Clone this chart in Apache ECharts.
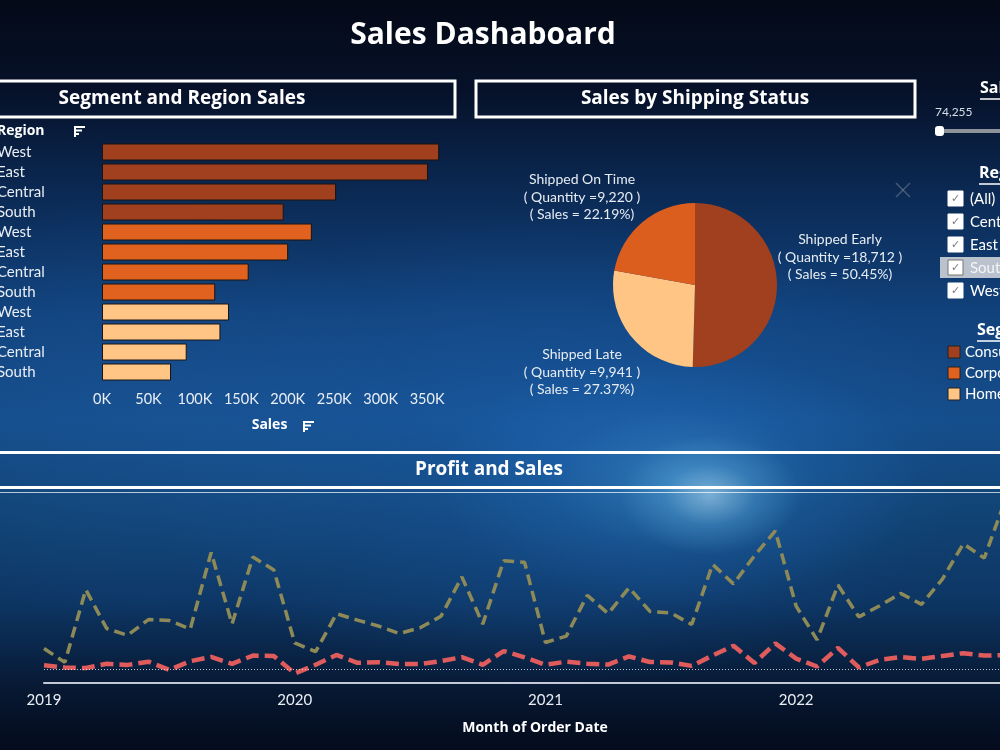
<!DOCTYPE html>
<html>
<head>
<meta charset="utf-8">
<script src="https://cdn.jsdelivr.net/npm/echarts@6/dist/echarts.min.js"></script>
<style>
  html, body { margin: 0; padding: 0; }
  body {
    width: 1000px; height: 750px; overflow: hidden;
    background:
      radial-gradient(ellipse 90px 60px at 71% 66%, rgba(200,240,255,0.5), rgba(120,200,245,0.22) 50%, rgba(0,0,0,0) 100%),
      radial-gradient(ellipse 240px 130px at 68% 64%, rgba(80,170,230,0.42), rgba(40,120,200,0.2) 55%, rgba(0,0,0,0) 100%),
      radial-gradient(ellipse 420px 240px at 55% 60%, rgba(30,100,180,0.45), rgba(0,0,0,0) 100%),
      radial-gradient(ellipse 260px 220px at 15% 55%, rgba(30,90,160,0.35), rgba(0,0,0,0) 100%),
      linear-gradient(to bottom, #040917 0%, #061129 12%, #0b2a55 26%, #11427c 42%, #154e8c 56%, #124679 66%, #0d3664 80%, #071832 92%, #040b1c 100%);
  }
  #chart { width: 1000px; height: 750px; }
</style>
</head>
<body>
<div id="chart"></div>
<script>
// Segment and region sales
const segments = ["Consumer", "Corporate", "Home Office"];
const regions = ["West", "East", "Central", "South"];
const consumerSales = [362900, 350900, 252000, 195600];
const corporateSales = [225900, 200400, 157900, 121900];
const homeOfficeSales = [136700, 127500, 91200, 74300];
const segmentColors = ["#A1401F", "#E0621E", "#FFC585"];

// Shipping status
const shipStatus = ["Shipped Early", "Shipped Late", "Shipped On Time"];
const shipSharePct = [50.45, 27.37, 22.19];
const shipQuantity = ["18,712", "9,941", "9,220"];
const shipColors = ["#A1401F", "#FFC585", "#DC5E1F"];

// Profit and sales by month
const years = ["2019", "2020", "2021", "2022"];
const monthlySales = [
  14200, 4500, 55700, 28300, 23600, 34600, 33900, 27900, 81800, 31500, 78600, 69500,
  18200, 12000, 38700, 34200, 30100, 24800, 28800, 36900, 64600, 31400, 76000, 74900,
  18500, 23000, 51700, 38800, 57000, 40300, 39300, 31100, 73400, 59700, 79400, 97000,
  44000, 20300, 58900, 36500, 44300, 53000, 45300, 63100, 87900, 77800, 118400, 83800
];
const monthlyProfit = [
  2450, 860, 500, 3490, 2740, 4980, -840, 5320, 8330, 3450, 9290, 8980,
  -3280, 2810, 9730, 4190, 4670, 3340, 3290, 5360, 8210, 2820, 12480, 8020,
  2820, 5000, 3610, 2980, 8660, 4750, 4430, 2060, 9330, 16240, 4010, 17890,
  7140, 1610, 14750, 930, 6340, 8220, 6950, 9040, 10990, 9280, 9690, 8480
];
const regionFilter = ["(All)", "Central", "East", "South", "West"];

const segValues = [consumerSales, corporateSales, homeOfficeSales];
const barCats = [];
const barData = [];
segments.forEach((s, si) => {
  regions.forEach((r, ri) => {
    barCats.push(s + "|" + r);
    barData.push({ value: segValues[si][ri], itemStyle: { color: segmentColors[si] } });
  });
});

const months = [];
years.forEach(y => {
  for (let m = 1; m <= 12; m++) months.push(y + "-" + String(m).padStart(2, "0"));
});

const FONT = "Lato";
const HEAD = "Open Sans";
const txt = "#e9eef4";

function sortIcon(x, y) {
  return {
    type: "group", x: x, y: y,
    children: [
      { type: "rect", shape: { x: 0, y: 0, width: 11, height: 2 }, style: { fill: "#ffffff" } },
      { type: "rect", shape: { x: 0, y: 3.5, width: 8, height: 2 }, style: { fill: "#ffffff" } },
      { type: "rect", shape: { x: 0, y: 7, width: 5, height: 2 }, style: { fill: "#ffffff" } },
      { type: "rect", shape: { x: 0, y: 0, width: 2, height: 11 }, style: { fill: "#ffffff" } }
    ]
  };
}

function heading(text, x, y) {
  return [
    { type: "text", x: x, y: y, style: { text: text, fill: "#ffffff", font: "bold 16px " + HEAD, textVerticalAlign: "middle" } },
    { type: "line", shape: { x1: x, y1: y + 11, x2: x + 80, y2: y + 11 }, style: { stroke: "#ffffff", lineWidth: 1.5 } }
  ];
}

const graphics = [
  { type: "text", x: 483, y: 35, style: { text: "Sales Dashaboard", fill: "#ffffff", font: "bold 30px " + HEAD, textAlign: "center", textVerticalAlign: "middle" } },
  // panel headers
  { type: "rect", shape: { x: -5, y: 81, width: 460, height: 36 }, style: { fill: "none", stroke: "#ffffff", lineWidth: 3 } },
  { type: "text", x: 182, y: 99, style: { text: "Segment and Region Sales", fill: "#ffffff", font: "bold 19px " + HEAD, textAlign: "center", textVerticalAlign: "middle" } },
  { type: "rect", shape: { x: 476, y: 81, width: 439, height: 36 }, style: { fill: "none", stroke: "#ffffff", lineWidth: 3 } },
  { type: "text", x: 695, y: 99, style: { text: "Sales by Shipping Status", fill: "#ffffff", font: "bold 19px " + HEAD, textAlign: "center", textVerticalAlign: "middle" } },
  { type: "text", x: -3, y: 131, style: { text: "Region", fill: "#ffffff", font: "bold 14px " + HEAD, textVerticalAlign: "middle" } },
  sortIcon(74, 126),
  sortIcon(303, 421),
  // profit and sales band
  { type: "rect", shape: { x: 0, y: 451, width: 1000, height: 3 }, style: { fill: "#ffffff" } },
  { type: "text", x: 489, y: 470, style: { text: "Profit and Sales", fill: "#ffffff", font: "bold 19px " + HEAD, textAlign: "center", textVerticalAlign: "middle" } },
  { type: "rect", shape: { x: 0, y: 486, width: 1000, height: 3 }, style: { fill: "#ffffff" } },
  { type: "rect", shape: { x: 0, y: 492, width: 1000, height: 1 }, style: { fill: "rgba(255,255,255,0.7)" } },
  // faint close mark
  { type: "line", shape: { x1: 896, y1: 183, x2: 910, y2: 197 }, style: { stroke: "rgba(140,150,165,0.45)", lineWidth: 1.5 } },
  { type: "line", shape: { x1: 910, y1: 183, x2: 896, y2: 197 }, style: { stroke: "rgba(140,150,165,0.45)", lineWidth: 1.5 } },
  // right side filters
  ...heading("Sales", 980, 88),
  { type: "text", x: 935, y: 112, style: { text: "74,255", fill: "#d8dee6", font: "12px " + FONT, textVerticalAlign: "middle" } },
  { type: "line", shape: { x1: 940, y1: 131, x2: 1000, y2: 131 }, style: { stroke: "#8d9299", lineWidth: 4 } },
  { type: "rect", shape: { x: 935, y: 126, width: 9, height: 10, r: 3 }, style: { fill: "#ffffff" } },
  ...heading("Region", 979, 173),
  { type: "rect", shape: { x: 940, y: 257, width: 60, height: 21 }, style: { fill: "rgba(215,218,222,0.85)" } },
  ...regionFilter.map((r, i) => ({
    type: "group", x: 948, y: 191 + i * 23,
    children: [
      { type: "rect", shape: { x: 0, y: 0, width: 15, height: 15 }, style: { fill: "#ffffff", stroke: i === 3 ? "#777" : "#ffffff", lineWidth: 1 } },
      { type: "text", x: 7.5, y: 8, style: { text: "✓", fill: "#777b80", font: "11px DejaVu Sans", textAlign: "center", textVerticalAlign: "middle" } },
      { type: "text", x: 22, y: 8, style: { text: r, fill: i === 3 ? "#f4f5f6" : "#ffffff", font: "15px " + FONT, textVerticalAlign: "middle" } }
    ]
  })),
  ...heading("Segment", 977, 330),
  ...segments.map((s, i) => ({
    type: "group", x: 948, y: 346 + i * 21,
    children: [
      { type: "rect", shape: { x: 0, y: 0, width: 12, height: 12 }, style: { fill: segmentColors[i], stroke: "#222", lineWidth: 1 } },
      { type: "text", x: 17, y: 6.5, style: { text: s, fill: "#ffffff", font: "15px " + FONT, textVerticalAlign: "middle" } }
    ]
  }))
];

const labelPos = [[840, 257], [582, 197], [582, 372]];
const labelPosByName = { "Shipped Early": labelPos[0], "Shipped On Time": labelPos[1], "Shipped Late": labelPos[2] };

const chart = echarts.init(document.getElementById("chart"));
chart.setOption({
  backgroundColor: "transparent",
  animation: false,
  textStyle: { fontFamily: FONT },
  grid: [
    { left: 102, right: 545, top: 142, bottom: 368, containLabel: false, outerBoundsMode: "none" },
    { left: 44, right: -26, top: 491, bottom: 67, containLabel: false, outerBoundsMode: "none" }
  ],
  xAxis: [
    {
      type: "value", gridIndex: 0, min: 0, max: 380000, interval: 50000,
      splitLine: { show: false }, axisLine: { show: false }, axisTick: { show: false },
      axisLabel: { color: txt, fontSize: 14.5, margin: 10, formatter: v => (v % 50000 === 0 ? v / 1000 + "K" : "") },
      name: "Sales", nameLocation: "middle", nameGap: 36,
      nameTextStyle: { color: "#ffffff", fontSize: 14, fontWeight: "bold", fontFamily: HEAD, padding: [0, 18, 0, 0] }
    },
    {
      type: "category", gridIndex: 1, data: months, boundaryGap: false,
      axisLine: { onZero: false, lineStyle: { color: "#c3cad4", width: 2 } }, axisTick: { show: false },
      axisLabel: { color: txt, fontSize: 15, margin: 10, interval: i => i % 12 === 0, formatter: v => v.slice(0, 4) },
      name: "Month of Order Date", nameLocation: "middle", nameGap: 38,
      nameTextStyle: { color: "#ffffff", fontSize: 14, fontWeight: "bold", fontFamily: HEAD }
    }
  ],
  yAxis: [
    {
      type: "category", gridIndex: 0, data: barCats, inverse: true,
      axisLine: { show: false }, axisTick: { show: false },
      axisLabel: { color: txt, fontSize: 15, align: "left", margin: 105, formatter: v => v.split("|")[1] }
    },
    { type: "value", gridIndex: 1, min: -10000, max: 125000, show: false, splitLine: { show: false } }
  ],
  series: [
    {
      type: "bar", xAxisIndex: 0, yAxisIndex: 0, data: barData, barWidth: 17,
      itemStyle: { borderColor: "#1b1410", borderWidth: 1 }
    },
    {
      type: "pie", center: [695, 285], radius: 82, startAngle: 90, clockwise: true,
      data: shipStatus.map((s, i) => ({ name: s, value: shipSharePct[i], itemStyle: { color: shipColors[i] } })),
      label: {
        show: true, color: "#e6ecf2", fontSize: 14, lineHeight: 17.5, align: "center",
        formatter: p => p.name + "\n( Quantity =" + shipQuantity[p.dataIndex] + " )\n( Sales = " + shipSharePct[p.dataIndex].toFixed(2) + "%)"
      },
      labelLine: { show: false },
      labelLayout: p => {
        const pos = labelPosByName[shipStatus[p.dataIndex]];
        return { x: pos[0], y: pos[1], align: "center", verticalAlign: "middle" };
      }
    },
    {
      name: "Sales", type: "line", xAxisIndex: 1, yAxisIndex: 1, data: monthlySales, symbol: "none",
      lineStyle: { color: "#8E8A58", width: 3.5, type: [11, 6] },
      markLine: {
        silent: true, symbol: "none", label: { show: false },
        lineStyle: { color: "rgba(255,255,255,0.75)", type: [1, 2], width: 1 },
        data: [{ yAxis: 0 }]
      }
    },
    {
      name: "Profit", type: "line", xAxisIndex: 1, yAxisIndex: 1, data: monthlyProfit, symbol: "none",
      lineStyle: { color: "#E05C5C", width: 4.5, type: [13, 6] }
    }
  ],
  graphic: graphics
});
</script>
</body>
</html>
